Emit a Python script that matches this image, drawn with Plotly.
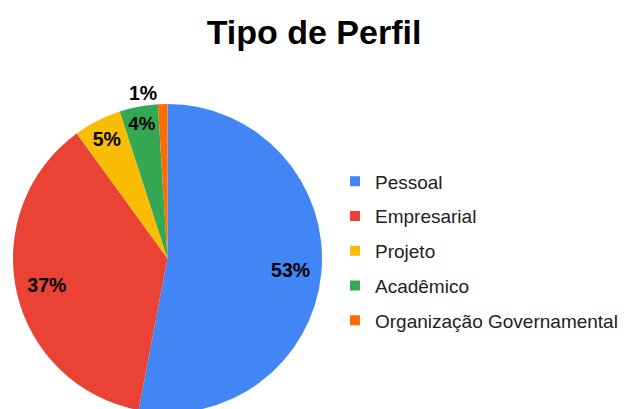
import plotly.graph_objects as go

title = "Tipo de Perfil"
labels = ["Pessoal", "Empresarial", "Projeto", "Acadêmico", "Organização Governamental"]
values = [53, 37, 5, 4, 1]
colors = ["#4285f4", "#ea4335", "#fbbc04", "#34a853", "#ff6d01"]
text_positions = ["inside", "inside", "inside", "inside", "outside"]

# the page body has an 8px default margin, so the figure is drawn 8px in
W, H = 619, 409
FONT = "Arial, 'Liberation Sans', sans-serif"
pie_domain = dict(x=[5 / W, 314 / W], y=[4 / H, 313 / H])

fig = go.Figure()
# coloured pie (no text)
fig.add_trace(go.Pie(
    labels=labels,
    values=values,
    sort=False,
    direction="clockwise",
    rotation=0,
    marker=dict(colors=colors, line=dict(width=0)),
    textinfo="none",
    showlegend=False,
    hoverinfo="label+percent",
    domain=pie_domain,
))
# transparent ring on top that carries the percentage labels further out
fig.add_trace(go.Pie(
    labels=labels,
    values=values,
    sort=False,
    direction="clockwise",
    rotation=0,
    hole=0.6,
    marker=dict(colors=["rgba(0,0,0,0)"] * len(values), line=dict(width=0)),
    texttemplate="<b>%{percent:.0%}</b>",
    textposition=text_positions,
    insidetextorientation="horizontal",
    textfont=dict(family=FONT, size=19.5, color="#000000"),
    showlegend=False,
    hoverinfo="skip",
    domain=pie_domain,
))

# legend entries (one group per category so the spacing can be set)
for i, (lab, col) in enumerate(zip(labels, colors)):
    fig.add_trace(go.Scatter(
        x=[None], y=[None], mode="markers", name=lab,
        marker=dict(symbol="square", size=10, color=col),
        legendgroup=f"g{i}", showlegend=True, hoverinfo="skip",
    ))

fig.update_layout(
    width=W, height=H,
    margin=dict(l=0, r=0, t=0, b=0),
    paper_bgcolor="white",
    plot_bgcolor="white",
    font=dict(family=FONT, color="#222222"),
    title=dict(
        text=f"<b>{title}</b>",
        x=306 / W, xanchor="center",
        y=1 - 24 / H, yanchor="middle",
        font=dict(family=FONT, size=34, color="#000000"),
    ),
    xaxis=dict(visible=False),
    yaxis=dict(visible=False),
    legend=dict(
        x=327 / W, xanchor="left",
        y=1 - 243 / H, yanchor="middle",
        font=dict(family=FONT, size=19, color="#222222"),
        tracegroupgap=7,
        bgcolor="rgba(0,0,0,0)",
    ),
)

fig.write_html("out.html")
